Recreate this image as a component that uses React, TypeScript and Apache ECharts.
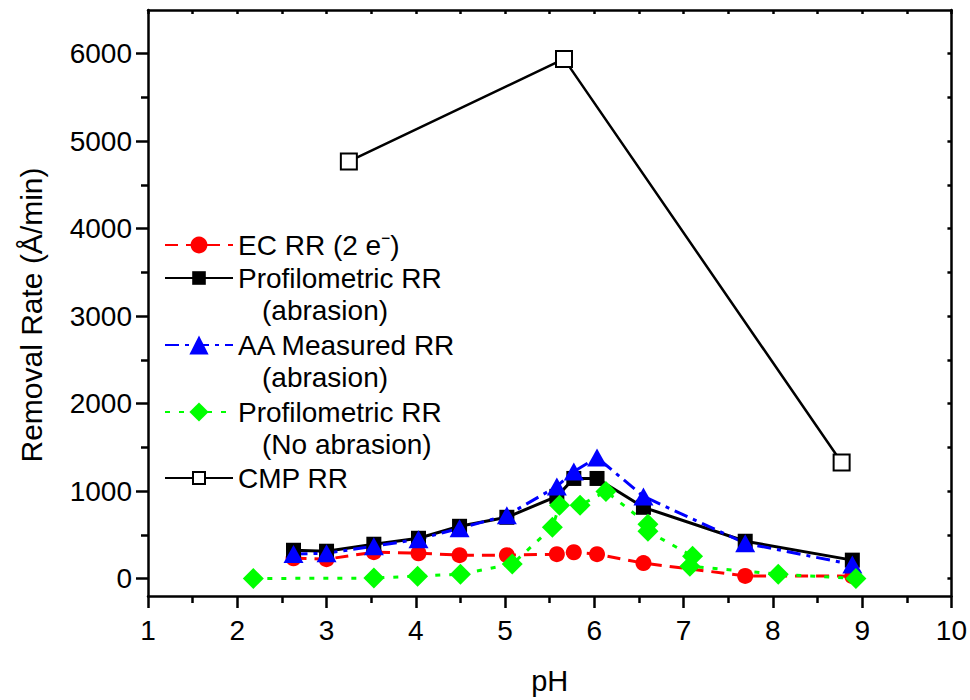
import React, { useEffect, useRef } from 'react';
import * as echarts from 'echarts';

const ecX = [2.63, 3.0, 3.53, 4.03, 4.49, 5.02, 5.58, 5.77, 6.03, 6.55, 7.69, 8.89];
const ecY = [232, 221, 301, 289, 267, 267, 278, 300, 278, 176, 30, 27];
const profX = [2.63, 3.0, 3.53, 4.03, 4.49, 5.02, 5.58, 5.77, 6.03, 6.55, 7.69, 8.89];
const profY = [323, 312, 392, 460, 597, 700, 939, 1144, 1144, 814, 426, 210];
const aaX = [2.63, 3.0, 3.53, 4.03, 4.49, 5.02, 5.58, 5.77, 6.03, 6.55, 7.69, 8.89];
const aaY = [280, 289, 369, 449, 574, 722, 1052, 1224, 1383, 939, 403, 160];
const noAbrX = [2.18, 3.53, 4.02, 4.5, 5.08, 5.53, 5.61, 5.84, 6.13, 6.6, 6.6, 7.1, 7.07, 8.06, 8.93];
const noAbrY = [0, 5, 27, 50, 165, 585, 837, 837, 996, 620, 540, 255, 141, 50, 0];
const cmpX = [3.25, 5.66, 8.77];
const cmpY = [4768, 5941, 1326];

const yMajor = [0, 1000, 2000, 3000, 4000, 5000, 6000];
const yMinor = [500, 1500, 2500, 3500, 4500, 5500];
const yAll = [0, 500, 1000, 1500, 2000, 2500, 3000, 3500, 4000, 4500, 5000, 5500, 6000];

const seriesNames = [
  'EC RR (2 e\u207B)',
  'Profilometric RR',
  'AA Measured RR',
  'Profilometric RR ',
  'CMP RR',
];
const secondLines = ['', '(abrasion)', '(abrasion)', '(No abrasion)', ''];
const legendCenters = [245, 278, 345, 412, 478];
const legendIconHeights = [21, 17, 24, 24, 15];

const FONT = 'Liberation Sans, Arial, sans-serif';

function zip(xs: number[], ys: number[]) {
  return xs.map((x, i) => [x, ys[i]]);
}

export default function App() {
  const ref = useRef<HTMLDivElement>(null);
  useEffect(() => {
    document.body.style.margin = '0';
    const chart = echarts.init(ref.current!, undefined, { renderer: 'svg' });
    const axisLine = { show: true, onZero: false, lineStyle: { color: '#000', width: 2.5 } };
    const tickStyle = { color: '#000', width: 2.5 };
    const grid = { left: 148, top: 10, width: 804, height: 588 };

    const legends = seriesNames.map((n, i) => ({
      data: [n],
      orient: 'vertical',
      left: 164,
      top: legendCenters[i] - 16,
      padding: 0,
      itemWidth: 68,
      itemHeight: legendIconHeights[i],
      selectedMode: false,
      textStyle: { fontSize: 28, color: '#000', fontFamily: FONT, lineHeight: 32 },
    }));

    const graphics = secondLines
      .map((t, i) => ({ t, i }))
      .filter((o) => o.t)
      .map((o) => ({
        type: 'text',
        left: 262,
        top: legendCenters[o.i] + 33 - 15,
        style: { text: o.t, fontSize: 28, fill: '#000', fontFamily: FONT },
      }));

    chart.setOption({
      animation: false,
      backgroundColor: '#fff',
      textStyle: { fontFamily: FONT },
      grid,
      legend: legends,
      graphic: graphics,
      xAxis: [
        {
          type: 'value',
          min: 1,
          max: 10,
          interval: 1,
          position: 'bottom',
          axisLine,
          axisTick: { show: true, length: 12, lineStyle: tickStyle },
          minorTick: { show: true, splitNumber: 2, length: 7, lineStyle: tickStyle },
          splitLine: { show: false },
          axisLabel: { fontSize: 28, color: '#000', margin: 20, fontFamily: FONT },
          name: 'pH',
          nameLocation: 'middle',
          nameGap: 70,
          nameTextStyle: { fontSize: 29, color: '#000', fontFamily: FONT },
        },
        {
          type: 'value',
          min: 1,
          max: 10,
          interval: 1,
          position: 'top',
          axisLine,
          axisTick: { show: true, inside: true, length: 4, lineStyle: tickStyle },
          minorTick: { show: true, splitNumber: 2, length: 4, lineStyle: tickStyle },
          splitLine: { show: false },
          axisLabel: { show: false },
        },
      ],
      yAxis: [
        {
          type: 'value',
          min: -200,
          max: 6500,
          position: 'left',
          axisLine,
          axisTick: { show: true, length: 12, lineStyle: tickStyle, customValues: yMajor },
          splitLine: { show: false },
          axisLabel: {
            fontSize: 28,
            color: '#000',
            margin: 16,
            fontFamily: FONT,
            customValues: yMajor,
            formatter: (v: number) => String(v),
          },
          name: 'Removal Rate (\u00C5/min)',
          nameLocation: 'middle',
          nameGap: 102,
          nameTextStyle: { fontSize: 30, color: '#000', fontFamily: FONT, padding: [0, 24, 0, 0] },
        },
        {
          type: 'value',
          min: -200,
          max: 6500,
          position: 'left',
          axisLine: { show: false },
          axisTick: { show: true, length: 7, lineStyle: tickStyle, customValues: yMinor },
          splitLine: { show: false },
          axisLabel: { show: false },
        },
        {
          type: 'value',
          min: -200,
          max: 6500,
          position: 'right',
          axisLine,
          axisTick: { show: true, inside: true, length: 4, lineStyle: tickStyle, customValues: yAll },
          splitLine: { show: false },
          axisLabel: { show: false },
        },
      ],
      series: [
        {
          name: seriesNames[0],
          type: 'line',
          data: zip(ecX, ecY),
          symbol: 'circle',
          symbolSize: 16,
          itemStyle: { color: '#ff0000' },
          lineStyle: { color: '#ff0000', width: 3, type: [13, 8] },
        },
        {
          name: seriesNames[1],
          type: 'line',
          data: zip(profX, profY),
          symbol: 'rect',
          symbolSize: 15,
          itemStyle: { color: '#000' },
          lineStyle: { color: '#000', width: 3 },
        },
        {
          name: seriesNames[2],
          type: 'line',
          data: zip(aaX, aaY),
          symbol: 'triangle',
          symbolSize: [20, 18],
          itemStyle: { color: '#0000ff' },
          lineStyle: { color: '#0000ff', width: 3, type: [14, 6, 4, 6] },
        },
        {
          name: seriesNames[3],
          type: 'line',
          data: zip(noAbrX, noAbrY),
          symbol: 'diamond',
          symbolSize: [21, 21],
          itemStyle: { color: '#00ff00' },
          lineStyle: { color: '#00ff00', width: 3, type: [5, 9] },
        },
        {
          name: seriesNames[4],
          type: 'line',
          data: zip(cmpX, cmpY),
          symbol: 'emptyRect',
          symbolSize: 16,
          itemStyle: { color: '#000' },
          lineStyle: { color: '#000', width: 2.5 },
        },
      ],
    });
    return () => chart.dispose();
  }, []);
  return <div ref={ref} style={{ width: 970, height: 700 }} />;
}
